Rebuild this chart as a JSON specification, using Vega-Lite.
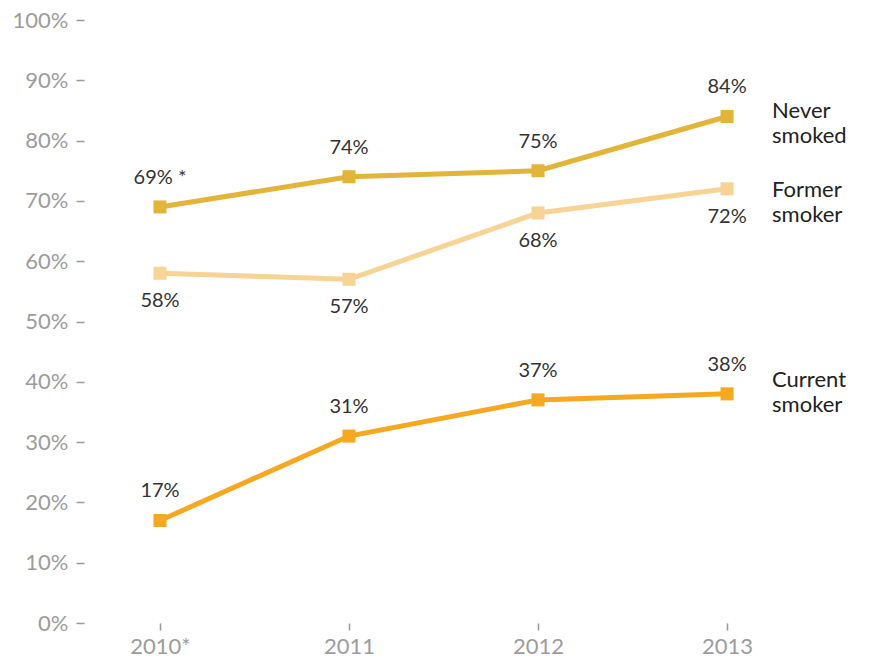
{
  "$schema": "https://vega.github.io/schema/vega-lite/v6.json",
  "autosize": "none",
  "width": 792,
  "height": 603,
  "padding": {"left": 84, "top": 20, "right": 0, "bottom": 39},
  "background": "white",
  "config": {"view": {"stroke": null}, "font": "Lato"},
  "data": {
    "values": [
      {"year": 2010, "series": "Never smoked", "value": 0.69, "label": "69% *"},
      {"year": 2011, "series": "Never smoked", "value": 0.74, "label": "74%"},
      {"year": 2012, "series": "Never smoked", "value": 0.75, "label": "75%"},
      {"year": 2013, "series": "Never smoked", "value": 0.84, "label": "84%"},
      {"year": 2010, "series": "Former smoker", "value": 0.58, "label": "58%"},
      {"year": 2011, "series": "Former smoker", "value": 0.57, "label": "57%"},
      {"year": 2012, "series": "Former smoker", "value": 0.68, "label": "68%"},
      {"year": 2013, "series": "Former smoker", "value": 0.72, "label": "72%"},
      {"year": 2010, "series": "Current smoker", "value": 0.17, "label": "17%"},
      {"year": 2011, "series": "Current smoker", "value": 0.31, "label": "31%"},
      {"year": 2012, "series": "Current smoker", "value": 0.37, "label": "37%"},
      {"year": 2013, "series": "Current smoker", "value": 0.38, "label": "38%"}
    ]
  },
  "encoding": {
    "x": {
      "field": "year",
      "type": "quantitative",
      "scale": {"domain": [2009.598, 2013.788], "nice": false, "zero": false},
      "axis": {
        "title": null,
        "values": [2010, 2011, 2012, 2013],
        "labelExpr": "datum.value == 2010 ? '2010*' : '' + datum.value",
        "domain": false,
        "grid": false,
        "tickSize": 7,
        "tickWidth": 1.5,
        "tickColor": "#999999",
        "labelPadding": 6,
        "labelFontSize": 22,
        "labelFontWeight": 400,
        "labelColor": "#9c9c9c"
      }
    },
    "y": {
      "field": "value",
      "type": "quantitative",
      "scale": {"domain": [0, 1], "nice": false},
      "axis": {
        "title": null,
        "values": [0, 0.1, 0.2, 0.3, 0.4, 0.5, 0.6, 0.7, 0.8, 0.9, 1],
        "format": ".0%",
        "domain": false,
        "grid": false,
        "tickSize": 8,
        "tickWidth": 1.5,
        "tickColor": "#999999",
        "labelPadding": 8,
        "labelFontSize": 22,
        "labelFontWeight": 400,
        "labelColor": "#9c9c9c"
      }
    },
    "color": {
      "field": "series",
      "type": "nominal",
      "scale": {
        "domain": ["Never smoked", "Former smoker", "Current smoker"],
        "range": ["#E3B43A", "#F7D396", "#F5A820"]
      },
      "legend": null
    }
  },
  "layer": [
    {"mark": {"type": "line", "strokeWidth": 5}},
    {"mark": {"type": "point", "shape": "square", "filled": true, "opacity": 1, "size": 170}},
    {
      "transform": [{"filter": "datum.series != 'Former smoker'"}],
      "mark": {"type": "text", "dy": -29, "fontSize": 20, "baseline": "middle"},
      "encoding": {"text": {"field": "label"}, "color": {"value": "#333333"}}
    },
    {
      "transform": [{"filter": "datum.series == 'Former smoker'"}],
      "mark": {"type": "text", "dy": 28, "fontSize": 20, "baseline": "middle"},
      "encoding": {"text": {"field": "label"}, "color": {"value": "#333333"}}
    },
    {
      "transform": [{"filter": "datum.year == 2013 && datum.series == 'Never smoked'"}],
      "mark": {"type": "text", "align": "left", "baseline": "middle", "dx": 45, "dy": -5, "fontSize": 22, "lineHeight": 25},
      "encoding": {"text": {"value": ["Never", "smoked"]}, "color": {"value": "#222222"}}
    },
    {
      "transform": [{"filter": "datum.year == 2013 && datum.series == 'Former smoker'"}],
      "mark": {"type": "text", "align": "left", "baseline": "middle", "dx": 45, "dy": 1, "fontSize": 22, "lineHeight": 25},
      "encoding": {"text": {"value": ["Former", "smoker"]}, "color": {"value": "#222222"}}
    },
    {
      "transform": [{"filter": "datum.year == 2013 && datum.series == 'Current smoker'"}],
      "mark": {"type": "text", "align": "left", "baseline": "middle", "dx": 45, "dy": -14, "fontSize": 22, "lineHeight": 25},
      "encoding": {"text": {"value": ["Current", "smoker"]}, "color": {"value": "#222222"}}
    }
  ]
}
